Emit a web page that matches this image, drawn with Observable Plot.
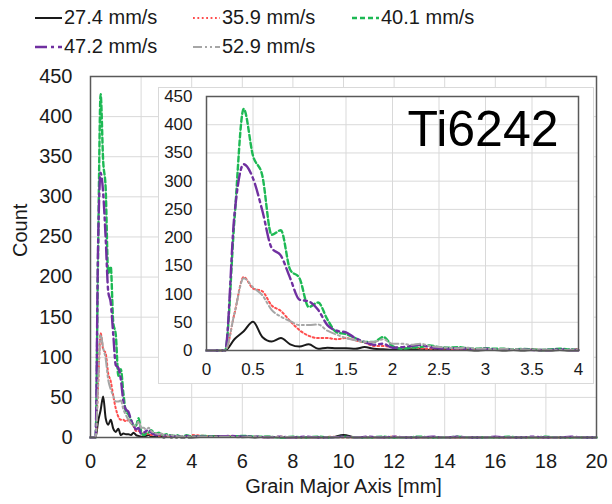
<!DOCTYPE html>
<html>
<head>
<meta charset="utf-8">
<script src="https://cdn.jsdelivr.net/npm/d3@7"></script>
<script src="https://cdn.jsdelivr.net/npm/@observablehq/plot@0.6"></script>
<style>
  html, body { margin: 0; padding: 0; background: #fff; }
  #wrap { position: relative; width: 612px; height: 504px; font-family: "Liberation Sans", Arial, sans-serif; color: #1a1a1a; }
  #legend { position: absolute; left: 0; top: 0; width: 612px; height: 60px; }
  .item { position: absolute; display: flex; align-items: center; font-size: 20px; white-space: nowrap; }
  .item svg { margin-right: 2px; }
  #main { position: absolute; left: 0; top: 60px; }
  #inset { position: absolute; left: 158px; top: 87px; background: #fff; border: 1px solid #d9d9d9; }
</style>
</head>
<body>
<div id="wrap">
  <div id="legend"></div>
  <div id="main"></div>
  <div id="inset"></div>
</div>
<script>
// ---- data ----
const seriesNames = ["27.4 mm/s", "35.9 mm/s", "40.1 mm/s", "47.2 mm/s", "52.9 mm/s"];

const grainMajorAxis = [
  0.0, 0.1, 0.2, 0.3, 0.4, 0.5, 0.6, 0.7, 0.8, 0.9,
  1.0, 1.1, 1.2, 1.3, 1.4, 1.5, 1.6, 1.7, 1.8, 1.9,
  2.0, 2.1, 2.2, 2.3, 2.4, 2.5, 2.6, 2.7, 2.8, 2.9,
  3.0, 3.1, 3.2, 3.3, 3.4, 3.5, 3.6, 3.7, 3.8, 3.9, 4.0,
  4.5, 5.0, 5.5, 6.0, 6.5, 7.0, 7.5, 8.0, 8.5, 9.0,
  9.5, 10.0, 10.5, 11.0, 11.5, 12.0, 12.5, 13.0, 13.5, 14.0,
  14.5, 15.0, 15.5, 16.0, 16.5, 17.0, 17.5, 18.0, 18.5, 19.0,
  19.5, 20.0
];

const count274 = [
  0, 0, 0, 20, 34, 51, 24, 16, 22, 11,
  7, 11, 3, 5, 4, 4, 3, 6, 3, 2,
  1, 1, 2, 3, 1, 1, 2, 1, 1, 0,
  1, 1, 0, 1, 0, 1, 0, 0, 1, 0, 0,
  1, 2, 1, 1, 0, 1, 0, 0, 0, 0,
  0, 3, 0, 0, 0, 0, 0, 0, 0, 0,
  0, 0, 0, 0, 0, 0, 0, 0, 0, 0,
  0, 0
];
const count359 = [
  0, 0, 0, 65, 130, 110, 105, 80, 70, 52,
  36, 26, 22, 22, 20, 22, 18, 14, 8, 8,
  6, 4, 5, 4, 3, 4, 3, 2, 3, 2,
  2, 1, 2, 1, 1, 2, 1, 1, 1, 1, 3,
  2, 1, 2, 1, 1, 0, 1, 0, 0, 0,
  1, 0, 0, 0, 0, 1, 0, 0, 0, 0,
  0, 0, 0, 0, 0, 0, 0, 0, 0, 0,
  0, 0
];
const count401 = [
  0, 0, 0, 230, 428, 345, 310, 205, 213, 143,
  128, 77, 85, 55, 32, 29, 22, 15, 15, 24,
  8, 3, 5, 6, 9, 6, 5, 6, 4, 3,
  4, 3, 3, 2, 3, 2, 1, 2, 3, 2, 1,
  2, 1, 1, 2, 1, 1, 0, 1, 0, 1,
  0, 1, 0, 0, 1, 0, 0, 1, 0, 0,
  1, 0, 0, 0, 1, 0, 0, 1, 0, 0,
  0, 0
];
const count472 = [
  0, 0, 0, 240, 330, 305, 248, 182, 168, 128,
  90, 87, 72, 45, 35, 32, 22, 15, 10, 12,
  5, 6, 8, 10, 6, 4, 3, 4, 3, 2,
  3, 2, 2, 1, 2, 1, 1, 1, 2, 1, 1,
  1, 1, 2, 1, 1, 0, 1, 0, 1, 0,
  0, 1, 0, 1, 0, 1, 0, 0, 1, 0,
  1, 0, 0, 1, 0, 0, 1, 0, 0, 1,
  0, 0
];
const count529 = [
  0, 0, 0, 65, 128, 112, 98, 72, 60, 52,
  45, 45, 46, 35, 28, 22, 18, 15, 15, 20,
  12, 12, 10, 12, 8, 6, 5, 4, 5, 3,
  3, 2, 3, 2, 2, 1, 2, 1, 1, 1, 1,
  1, 1, 1, 0, 1, 0, 1, 0, 0, 0,
  0, 0, 0, 0, 0, 0, 0, 0, 0, 0,
  0, 0, 0, 0, 0, 0, 0, 0, 0, 0,
  0, 0
];

const mainXTicks = [0, 2, 4, 6, 8, 10, 12, 14, 16, 18, 20];
const insetXTicks = [0, 0.5, 1, 1.5, 2, 2.5, 3, 3.5, 4];
const yTicks = [0, 50, 100, 150, 200, 250, 300, 350, 400, 450];

// ---- styles ----
const styles = [
  {name: seriesNames[0], values: count274, stroke: "#1a1a1a", dash: null, width: 2},
  {name: seriesNames[1], values: count359, stroke: "#ff4d4d", dash: "1.8,2.6", width: 2},
  {name: seriesNames[2], values: count401, stroke: "#1db954", dash: "5,3", width: 2.4},
  {name: seriesNames[3], values: count472, stroke: "#7030a0", dash: "12,4,3,4", width: 2.4},
  {name: seriesNames[4], values: count529, stroke: "#a6a6a6", dash: "9,3,2,3,2,3", width: 2}
];
const seriesData = styles.map(s => s.values.map((v, i) => ({x: grainMajorAxis[i], y: v, series: s.name})));

// ---- legend ----
const legendPos = [
  {left: 35, top: 6}, {left: 193, top: 6}, {left: 352, top: 6},
  {left: 35, top: 35}, {left: 193, top: 35}
];
const legend = document.getElementById("legend");
styles.forEach((s, i) => {
  const div = document.createElement("div");
  div.className = "item";
  div.style.left = legendPos[i].left + "px";
  div.style.top = legendPos[i].top + "px";
  div.innerHTML = `<svg width="27" height="10"><line x1="0" y1="5" x2="27" y2="5" stroke="${s.stroke}" stroke-width="${s.width}" ${s.dash ? `stroke-dasharray="${s.dash}"` : ""}/></svg><span></span>`;
  div.querySelector("span").textContent = s.name;
  legend.appendChild(div);
});

function lineMarks(filterFn) {
  return styles.map((s, i) => Plot.line(seriesData[i].filter(filterFn), {
    x: "x", y: "y", stroke: s.stroke, strokeWidth: s.width,
    strokeDasharray: s.dash || undefined, curve: "monotone-x"
  }));
}

// ---- main chart ----
const main = Plot.plot({
  width: 612, height: 444,
  marginLeft: 90, marginRight: 16, marginTop: 16, marginBottom: 67,
  style: {fontFamily: "'Liberation Sans', Arial, sans-serif", fontSize: "20px", color: "#1a1a1a", background: "transparent"},
  x: {domain: [0, 20]},
  y: {domain: [0, 450]},
  marks: [
    Plot.gridX(mainXTicks, {stroke: "#d9d9d9", strokeOpacity: 1}),
    Plot.gridY(yTicks, {stroke: "#d9d9d9", strokeOpacity: 1}),
    Plot.axisX(mainXTicks, {tickSize: 0, tickPadding: 16, label: null, fontSize: 20}),
    Plot.axisY(yTicks, {tickSize: 0, tickPadding: 18, label: null, fontSize: 20}),
    Plot.text(["Count"], {frameAnchor: "left", dx: -70, rotate: -90, fontSize: 20}),
    Plot.text(["Grain Major Axis [mm]"], {frameAnchor: "bottom", dy: 55, fontSize: 20}),
    ...lineMarks(d => true),
    Plot.frame({stroke: "#595959", strokeWidth: 1.5})
  ]
});
document.getElementById("main").appendChild(main);

// ---- inset chart ----
const inset = Plot.plot({
  width: 434, height: 295,
  marginLeft: 47, marginRight: 15, marginTop: 8, marginBottom: 33,
  style: {fontFamily: "'Liberation Sans', Arial, sans-serif", fontSize: "17px", color: "#1a1a1a", background: "#fff"},
  x: {domain: [0, 4]},
  y: {domain: [0, 450]},
  marks: [
    Plot.gridX(insetXTicks, {stroke: "#d9d9d9", strokeOpacity: 1}),
    Plot.gridY(yTicks, {stroke: "#d9d9d9", strokeOpacity: 1}),
    Plot.axisX(insetXTicks, {tickSize: 0, tickPadding: 12, label: null, fontSize: 17, tickFormat: d => String(d)}),
    Plot.axisY(yTicks, {tickSize: 0, tickPadding: 14, label: null, fontSize: 17}),
    Plot.text(["Ti6242"], {frameAnchor: "top-right", dx: -20, dy: 14, lineAnchor: "top", textAnchor: "end", fontSize: 50, fill: "#000"}),
    ...lineMarks(d => d.x <= 4),
    Plot.frame({stroke: "#595959", strokeWidth: 1.5})
  ]
});
document.getElementById("inset").appendChild(inset);
</script>
</body>
</html>
